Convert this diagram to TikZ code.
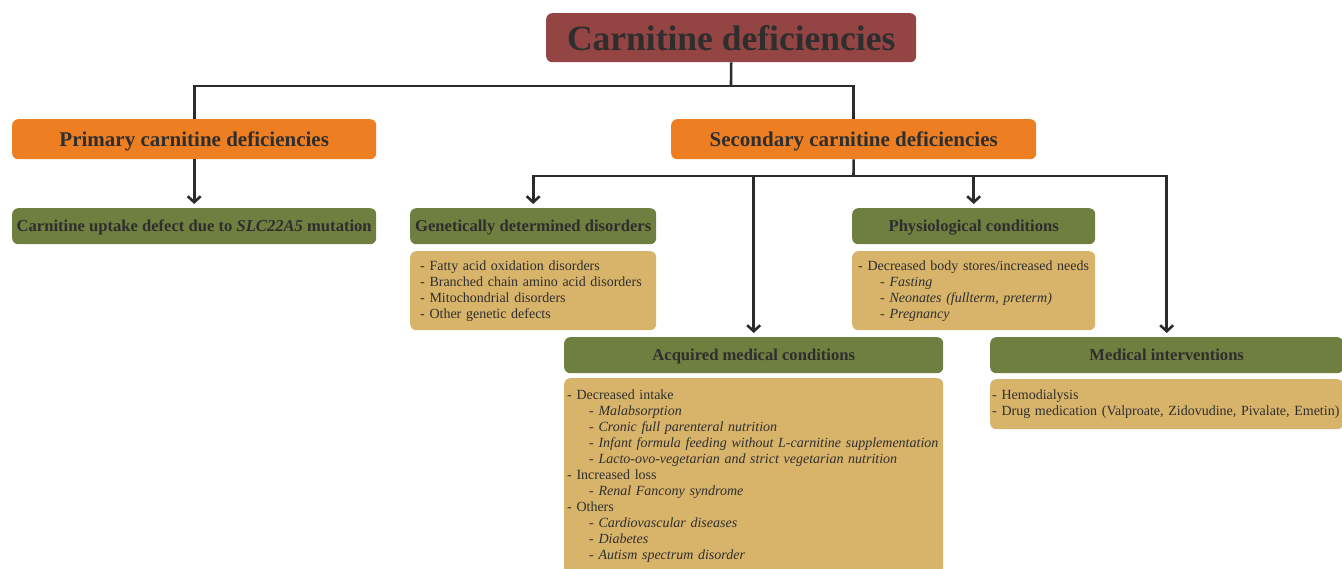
\documentclass[tikz,border=0pt]{standalone}
\usepackage{fontspec}
\setmainfont{Liberation Serif}
\usetikzlibrary{arrows.meta}
\definecolor{txt}{HTML}{2E2E2E}
\definecolor{maroon}{HTML}{954444}
\definecolor{orng}{HTML}{EE7E22}
\definecolor{olive}{HTML}{6E7F3F}
\definecolor{tan}{HTML}{D8B46B}
\definecolor{linec}{HTML}{2B2B2B}
\tikzset{
  box/.style={rounded corners=6pt, inner sep=0pt, text=txt, anchor=north west},
  titlebox/.style={box, fill=maroon, font=\fontsize{35.5}{40}\selectfont\bfseries},
  catbox/.style={box, fill=orng, font=\fontsize{21}{24}\selectfont\bfseries, text depth=1pt},
  headbox/.style={box, fill=olive, font=\fontsize{16.6}{19}\selectfont\bfseries, text depth=0.5pt},
  listbox/.style={box, fill=tan, font=\fontsize{14}{16}\selectfont, align=left},
  conn/.style={line width=2.6pt, draw=linec},
  arr/.style={conn, -{Straight Barb[length=6pt,width=13pt]}, shorten >=4pt}
}
\newcommand{\ind}{\hspace*{22pt}}
\begin{document}
\begin{tikzpicture}[x=1pt,y=-1pt]
\useasboundingbox (0,0) rectangle (1342,568);
\node[titlebox, minimum width=370pt, minimum height=49pt] (title) at (546,13) {Carnitine deficiencies};
\node[catbox, minimum width=364pt, minimum height=40pt] (primary) at (12,119) {Primary carnitine deficiencies};
\node[catbox, minimum width=365pt, minimum height=40pt] (secondary) at (671,119) {Secondary carnitine deficiencies};
\node[headbox, minimum width=364pt, minimum height=36pt] (uptake) at (12,208) {Carnitine uptake defect due to \textit{SLC22A5} mutation};
\node[headbox, minimum width=246pt, minimum height=36pt] (genetic) at (410,208) {Genetically determined disorders};
\node[listbox, minimum width=246pt, minimum height=79pt, text width=226pt, inner xsep=10pt] (geneticlist) at (410,251) {- Fatty acid oxidation disorders\\- Branched chain amino acid disorders\\- Mitochondrial disorders\\- Other genetic defects};
\node[headbox, minimum width=243pt, minimum height=36pt] (physio) at (852,208) {Physiological conditions};
\node[listbox, minimum width=243pt, minimum height=79pt, text width=231pt, inner xsep=6pt] (physiolist) at (852,251) {- Decreased body stores/increased needs\\\ind\textit{- Fasting}\\\ind\textit{- Neonates (fullterm, preterm)}\\\ind\textit{- Pregnancy}};
\node[headbox, minimum width=379pt, minimum height=36pt] (acquired) at (564,337) {Acquired medical conditions};
\node[listbox, minimum width=379pt, minimum height=196pt, text width=373pt, inner xsep=3pt] (acquiredlist) at (564,378) {- Decreased intake\\\ind\textit{- Malabsorption}\\\ind\textit{- Cronic full parenteral nutrition}\\\ind\textit{- Infant formula feeding without L-carnitine supplementation}\\\ind\textit{- Lacto-ovo-vegetarian and strict vegetarian nutrition}\\- Increased loss\\\ind\textit{- Renal Fancony syndrome}\\- Others\\\ind\textit{- Cardiovascular diseases}\\\ind\textit{- Diabetes}\\\ind\textit{- Autism spectrum disorder}};
\node[headbox, minimum width=353pt, minimum height=36pt] (medical) at (990,337) {Medical interventions};
\node[listbox, minimum width=353pt, minimum height=50pt, text width=349pt, inner xsep=2pt] (medicallist) at (990,379) {- Hemodialysis\\- Drug medication (Valproate, Zidovudine, Pivalate, Emetin)};
\coordinate (j1) at (731,86);
\coordinate (j2) at (853.5,176);
\draw[conn] (title.south) -- (j1);
\draw[conn] (primary.north) |- (j1) -| (secondary.north);
\draw[arr] (primary.south) -- (uptake.north);
\draw[conn] (secondary.south) -- (j2);
\draw[arr] (j2) -| (genetic.north);
\draw[arr] (j2) -| (acquired.north);
\draw[arr] (j2) -| (physio.north);
\draw[arr] (j2) -| (medical.north);
\end{tikzpicture}
\end{document}
